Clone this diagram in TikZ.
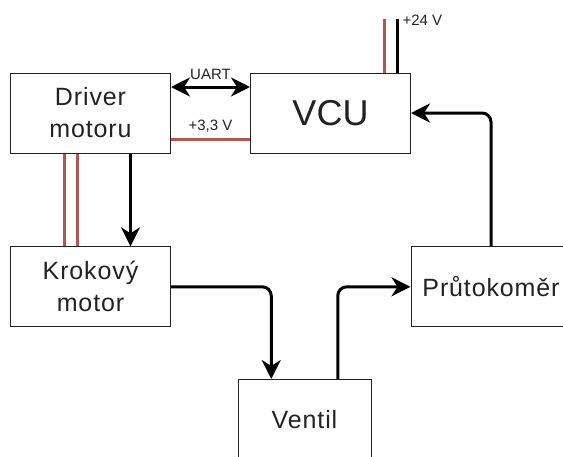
\documentclass[tikz,border=0pt]{standalone}
\usepackage{fontspec}
\setmainfont{Liberation Sans}
\newfontfamily\boxfont[LetterSpace=3.5]{Liberation Sans}
\usetikzlibrary{arrows.meta}
\definecolor{wirered}{RGB}{184,84,80}
\definecolor{txt}{RGB}{34,34,34}
\begin{document}
\begin{tikzpicture}[x=1pt,y=-1pt,
  block/.style={draw=txt,line width=1pt,fill=white,minimum width=160pt,minimum height=80pt,inner sep=0pt,align=center,text=txt,font=\boxfont\fontsize{25}{32}\selectfont},
  tipA/.tip={Stealth[length=19pt,width=19pt,inset=6pt]},
  flow/.style={line width=3pt,-tipA,rounded corners=9pt},
  redwire/.style={draw=wirered,line width=3pt},
  lbl/.style={text=txt,font=\fontsize{15}{17}\selectfont,inner sep=0pt,text depth=0pt}]
\useasboundingbox (0,0) rectangle (563,456);
\clip (0,0) rectangle (563,456);
\node[block] (drv) at (90.5,113) {Driver\\motoru};
\node[block,font=\fontsize{36}{40}\selectfont] (vcu) at (330.5,113) {VCU};
\node[block] (krok) at (90.5,286.8) {Krokový\\motor};
\node[block] (prut) at (491,286.8) {Průtokoměr};
\node[block,minimum width=133pt] (vent) at (304.5,419.5) {Ventil};
% driver -> stepper
\draw[flow] ([xshift=40pt]drv.south) -- ([xshift=40pt]krok.north);
\draw[redwire] ([xshift=-26.2pt]drv.south) -- ([xshift=-26.2pt]krok.north);
\draw[redwire] ([xshift=-13.2pt]drv.south) -- ([xshift=-13.2pt]krok.north);
% UART
\draw[line width=3pt,tipA-tipA] ([yshift=26pt]drv.east) -- ([yshift=26pt]vcu.west)
  node[lbl,midway,above=6.5pt] (uart) {UART};
% +3,3 V
\draw[redwire] ([yshift=-26pt]drv.east) -- ([yshift=-26pt]vcu.west)
  node[lbl,midway,above=7.3pt] (v33) {+3,3 V};
% +24 V
\coordinate (b24) at (397.3,19);
\coordinate (r24) at (384.3,19);
\draw[redwire] (r24) -- (r24 |- vcu.north);
\draw[line width=3pt] (b24) -- (b24 |- vcu.north);
\node[lbl,anchor=west] (v24) at ([xshift=5pt,yshift=-1.5pt]b24) {+24 V};
% flow loop
\draw[flow] (krok.east) -| ([xshift=-33.25pt]vent.north);
\draw[flow] ([xshift=33.25pt]vent.north) |- (prut.west);
\draw[flow] (prut.north) |- (vcu.east);
\end{tikzpicture}
\end{document}
